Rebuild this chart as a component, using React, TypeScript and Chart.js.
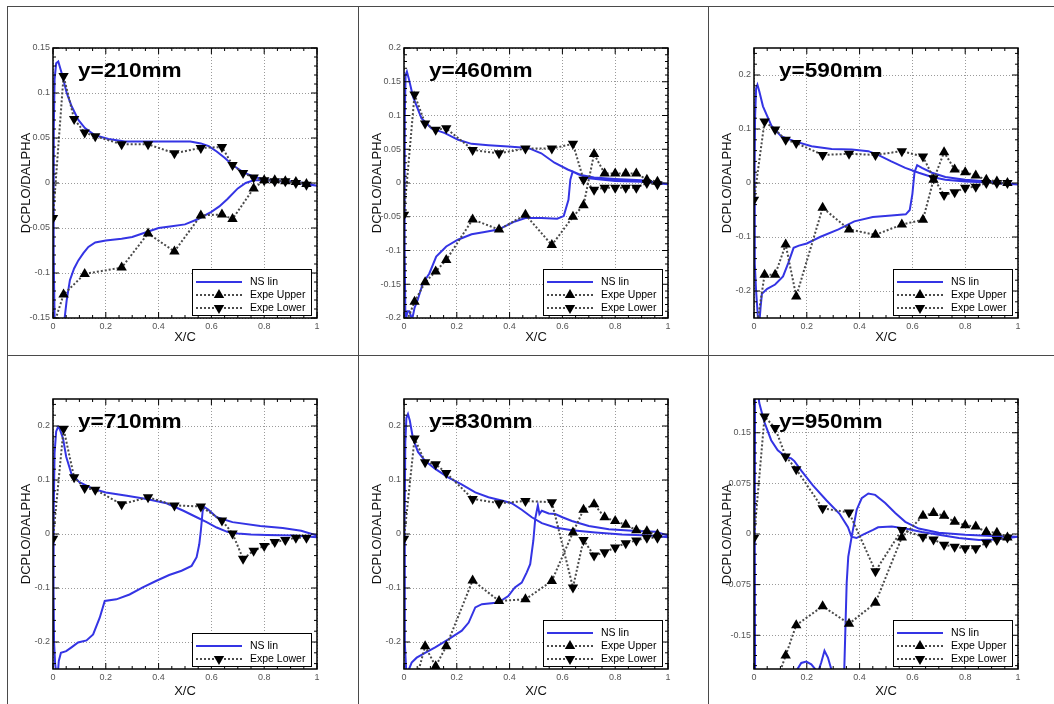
import React, { useEffect, useRef } from 'react';
import { Chart, registerables } from 'chart.js';
Chart.register(...registerables);

const FONT = '"Liberation Sans", Arial, Helvetica, sans-serif';

// pressure tap chord positions shared by experimental series
const TAP_X = [0, 0.04, 0.08, 0.12, 0.16, 0.26, 0.36, 0.46, 0.56, 0.64, 0.68, 0.72, 0.76, 0.80, 0.84, 0.88, 0.92, 0.96];
const X_TICKS = [0, 0.2, 0.4, 0.6, 0.8, 1];
const X_TICK_LABELS = ['0', '0.2', '0.4', '0.6', '0.8', '1'];

// ---------- y = 210 mm ----------
const P1_Y_TICKS = [-0.15, -0.1, -0.05, 0, 0.05, 0.1, 0.15];
const P1_Y_LABELS = ['-0.15', '-0.1', '-0.05', '0', '0.05', '0.1', '0.15'];
const P1_NS_X = [1.0, 0.95, 0.9, 0.85, 0.8, 0.76, 0.72, 0.68, 0.65, 0.62, 0.59, 0.56, 0.52, 0.46, 0.4, 0.34, 0.273, 0.21, 0.159, 0.121, 0.096, 0.071, 0.052, 0.033, 0.02, 0.012, 0.006, 0.003, 0.002, 0.003, 0.006, 0.015, 0.03, 0.04, 0.045, 0.052, 0.064, 0.08, 0.096, 0.115, 0.134, 0.16, 0.2, 0.26, 0.3, 0.35, 0.4, 0.45, 0.5, 0.55, 0.6, 0.63, 0.66, 0.7, 0.73, 0.76, 0.8, 0.9, 1.0];
const P1_NS_Y = [-0.003, 0.0, 0.002, 0.003, 0.004, 0.007, 0.012, 0.02, 0.028, 0.035, 0.041, 0.044, 0.046, 0.046, 0.046, 0.046, 0.046, 0.049, 0.053, 0.061, 0.07, 0.085, 0.1, 0.122, 0.135, 0.133, 0.115, 0.06, 0.0, -0.08, -0.15, -0.2, -0.19, -0.16, -0.148, -0.13, -0.108, -0.095, -0.086, -0.078, -0.071, -0.066, -0.064, -0.062, -0.06, -0.055, -0.05, -0.048, -0.046, -0.04, -0.032, -0.026, -0.018, -0.006, 0.0, 0.003, 0.003, 0.001, -0.003];
const P1_UPPER = [-0.16, -0.124, null, -0.101, null, -0.094, -0.056, -0.076, -0.036, -0.035, -0.04, null, -0.006, 0.003, 0.003, 0.002, 0.001, -0.001];
const P1_LOWER = [-0.039, 0.119, 0.071, 0.056, 0.052, 0.043, 0.043, 0.033, 0.039, 0.040, 0.020, 0.011, 0.006, 0.003, 0.002, 0.002, 0.0, -0.002];

// ---------- y = 460 mm ----------
const P2_Y_TICKS = [-0.2, -0.15, -0.1, -0.05, 0, 0.05, 0.1, 0.15, 0.2];
const P2_Y_LABELS = ['-0.2', '-0.15', '-0.1', '-0.05', '0', '0.05', '0.1', '0.15', '0.2'];
const P2_NS_X = [1.0, 0.9, 0.8, 0.72, 0.67, 0.62, 0.57, 0.52, 0.47, 0.395, 0.32, 0.256, 0.205, 0.155, 0.104, 0.066, 0.034, 0.018, 0.011, 0.006, 0.003, 0.002, 0.003, 0.005, 0.008, 0.014, 0.02, 0.027, 0.033, 0.04, 0.052, 0.071, 0.096, 0.122, 0.16, 0.204, 0.256, 0.3, 0.357, 0.42, 0.46, 0.52, 0.58, 0.605, 0.623, 0.63, 0.639, 0.66, 0.7, 0.8, 0.9, 1.0];
const P2_NS_Y = [-0.002, 0.004, 0.006, 0.008, 0.012, 0.02, 0.03, 0.044, 0.052, 0.054, 0.056, 0.058, 0.064, 0.074, 0.081, 0.096, 0.128, 0.155, 0.165, 0.16, 0.1, 0.0, -0.1, -0.19, -0.2, -0.19, -0.19, -0.198, -0.198, -0.185, -0.173, -0.149, -0.134, -0.109, -0.094, -0.084, -0.076, -0.073, -0.069, -0.057, -0.052, -0.052, -0.053, -0.049, -0.025, 0.005, 0.017, 0.013, 0.007, 0.003, 0.002, -0.002];
const P2_UPPER = [-0.215, -0.176, -0.147, -0.131, -0.114, -0.054, -0.069, -0.047, -0.092, -0.05, -0.033, 0.043, 0.014, 0.014, 0.014, 0.014, 0.005, 0.002];
const P2_LOWER = [-0.047, 0.131, 0.088, 0.079, 0.081, 0.049, 0.044, 0.051, 0.051, 0.058, 0.005, -0.010, -0.007, -0.007, -0.007, -0.007, 0.0, -0.002];

// ---------- y = 590 mm ----------
const P3_Y_TICKS = [-0.2, -0.1, 0, 0.1, 0.2];
const P3_Y_LABELS = ['-0.2', '-0.1', '0', '0.1', '0.2'];
const P3_NS_X = [1.0, 0.89, 0.8, 0.725, 0.674, 0.624, 0.573, 0.52, 0.47, 0.433, 0.37, 0.294, 0.218, 0.155, 0.104, 0.066, 0.034, 0.02, 0.013, 0.008, 0.004, 0.002, 0.003, 0.008, 0.015, 0.02, 0.025, 0.03, 0.05, 0.08, 0.11, 0.13, 0.15, 0.17, 0.2, 0.25, 0.32, 0.38, 0.45, 0.52, 0.575, 0.59, 0.6, 0.608, 0.618, 0.636, 0.674, 0.725, 0.8, 0.89, 1.0];
const P3_NS_Y = [-0.003, 0.001, 0.003, 0.006, 0.011, 0.019, 0.028, 0.04, 0.052, 0.059, 0.062, 0.063, 0.068, 0.077, 0.086, 0.106, 0.142, 0.17, 0.182, 0.175, 0.12, 0.0, -0.15, -0.2, -0.25, -0.26, -0.23, -0.205, -0.196, -0.188, -0.173, -0.148, -0.12, -0.116, -0.112, -0.1, -0.086, -0.071, -0.063, -0.06, -0.058, -0.05, -0.02, 0.02, 0.033, 0.028, 0.019, 0.011, 0.006, 0.003, -0.003];
const P3_UPPER = [-0.3, -0.17, -0.17, -0.114, -0.21, -0.046, -0.086, -0.096, -0.077, -0.068, 0.006, 0.057, 0.025, 0.02, 0.014, 0.006, 0.003, 0.0];
const P3_LOWER = [-0.031, 0.114, 0.099, 0.080, 0.074, 0.052, 0.054, 0.052, 0.059, 0.049, 0.009, -0.022, -0.017, -0.009, -0.007, 0.0, 0.0, 0.0];

// ---------- y = 710 mm ----------
const P4_Y_TICKS = [-0.2, -0.1, 0, 0.1, 0.2];
const P4_Y_LABELS = ['-0.2', '-0.1', '0', '0.1', '0.2'];
const P4_NS_X = [1.0, 0.91, 0.81, 0.75, 0.7, 0.66, 0.62, 0.582, 0.544, 0.494, 0.43, 0.354, 0.28, 0.2, 0.15, 0.1, 0.07, 0.05, 0.038, 0.025, 0.019, 0.012, 0.006, 0.003, 0.002, 0.004, 0.008, 0.013, 0.018, 0.022, 0.03, 0.05, 0.07, 0.095, 0.127, 0.152, 0.177, 0.196, 0.24, 0.29, 0.34, 0.39, 0.44, 0.487, 0.525, 0.544, 0.554, 0.56, 0.567, 0.573, 0.589, 0.62, 0.68, 0.785, 0.87, 0.94, 1.0];
const P4_NS_Y = [-0.006, -0.003, -0.002, -0.001, 0.001, 0.004, 0.012, 0.022, 0.031, 0.043, 0.057, 0.065, 0.071, 0.077, 0.084, 0.096, 0.111, 0.143, 0.177, 0.195, 0.198, 0.19, 0.15, 0.05, -0.1, -0.2, -0.24, -0.26, -0.26, -0.235, -0.22, -0.217, -0.21, -0.201, -0.197, -0.186, -0.155, -0.124, -0.121, -0.112, -0.099, -0.087, -0.076, -0.068, -0.059, -0.043, -0.019, 0.006, 0.043, 0.05, 0.045, 0.031, 0.022, 0.015, 0.011, 0.006, -0.003];
const P4_LOWER = [-0.009, 0.195, 0.105, 0.085, 0.082, 0.055, 0.068, 0.053, 0.051, 0.025, 0.001, -0.046, -0.031, -0.022, -0.015, -0.011, -0.007, -0.007];

// ---------- y = 830 mm ----------
const P5_Y_TICKS = [-0.2, -0.1, 0, 0.1, 0.2];
const P5_Y_LABELS = ['-0.2', '-0.1', '0', '0.1', '0.2'];
const P5_NS_X = [1.0, 0.928, 0.826, 0.725, 0.636, 0.573, 0.522, 0.484, 0.446, 0.408, 0.37, 0.32, 0.27, 0.218, 0.167, 0.117, 0.079, 0.053, 0.034, 0.022, 0.015, 0.009, 0.005, 0.002, 0.003, 0.008, 0.012, 0.016, 0.029, 0.048, 0.08, 0.118, 0.168, 0.219, 0.245, 0.27, 0.295, 0.357, 0.395, 0.42, 0.446, 0.465, 0.478, 0.49, 0.497, 0.507, 0.513, 0.522, 0.548, 0.573, 0.6, 0.636, 0.7, 0.776, 0.865, 0.953, 1.0];
const P5_NS_Y = [-0.006, -0.003, -0.001, 0.003, 0.007, 0.012, 0.02, 0.031, 0.045, 0.057, 0.062, 0.068, 0.077, 0.092, 0.105, 0.121, 0.136, 0.152, 0.177, 0.21, 0.222, 0.215, 0.17, 0.0, -0.2, -0.25, -0.27, -0.254, -0.238, -0.229, -0.22, -0.21, -0.195, -0.179, -0.164, -0.136, -0.13, -0.127, -0.115, -0.099, -0.09, -0.071, -0.056, -0.012, 0.028, 0.053, 0.037, 0.043, 0.038, 0.037, 0.031, 0.024, 0.015, 0.009, 0.006, 0.004, -0.003];
const P5_UPPER = [-0.32, -0.28, -0.208, -0.245, -0.208, -0.086, -0.124, -0.121, -0.087, 0.003, 0.045, 0.055, 0.031, 0.024, 0.017, 0.007, 0.005, -0.001];
const P5_LOWER = [-0.009, 0.177, 0.133, 0.129, 0.113, 0.065, 0.057, 0.061, 0.059, -0.099, -0.011, -0.04, -0.034, -0.025, -0.017, -0.012, -0.007, -0.007];

// ---------- y = 950 mm ----------
const P6_Y_TICKS = [-0.15, -0.075, 0, 0.075, 0.15];
const P6_Y_LABELS = ['-0.15', '-0.075', '0', '0.075', '0.15'];
const P6_NS_X = [1.0, 0.915, 0.852, 0.776, 0.7, 0.636, 0.573, 0.522, 0.47, 0.451, 0.413, 0.388, 0.369, 0.356, 0.324, 0.274, 0.223, 0.179, 0.153, 0.141, 0.122, 0.09, 0.065, 0.039, 0.02, 0.012, 0.007, 0.004, 0.003, 0.004, 0.01, 0.1, 0.15, 0.16, 0.179, 0.198, 0.217, 0.242, 0.255, 0.267, 0.28, 0.3, 0.32, 0.338, 0.342, 0.351, 0.357, 0.37, 0.389, 0.408, 0.433, 0.459, 0.497, 0.535, 0.573, 0.624, 0.7, 0.8, 0.9, 1.0];
const P6_NS_Y = [-0.004, -0.008, -0.009, -0.006, -0.001, 0.003, 0.008, 0.011, 0.01, 0.006, -0.001, -0.006, -0.004, 0.01, 0.03, 0.05, 0.072, 0.094, 0.108, 0.112, 0.114, 0.124, 0.139, 0.166, 0.194, 0.22, 0.24, 0.2, 0.0, -0.2, -0.3, -0.32, -0.22, -0.203, -0.191, -0.189, -0.193, -0.205, -0.19, -0.173, -0.183, -0.21, -0.3, -0.3, -0.2, -0.073, -0.034, -0.004, 0.036, 0.053, 0.06, 0.058, 0.046, 0.031, 0.018, 0.008, 0.002, -0.001, -0.003, -0.004];
const P6_UPPER = [null, null, -0.225, -0.18, -0.135, -0.107, -0.133, -0.102, -0.005, 0.027, 0.031, 0.027, 0.018, 0.013, 0.011, 0.003, 0.002, -0.005];
const P6_LOWER = [-0.006, 0.174, 0.157, 0.115, 0.096, 0.038, 0.032, -0.055, 0.006, -0.004, -0.008, -0.016, -0.019, -0.021, -0.021, -0.013, -0.009, -0.005];

type Panel = {
  title: string;
  yMin: number; yMax: number; yMinor: number;
  yTicks: number[]; yLabels: string[];
  nsX: number[]; nsY: number[];
  upper: (number | null)[] | null; lower: (number | null)[];
  left: number; top: number; xTitlePad: number;
};

const PANELS: Panel[] = [
  { title: 'y=210mm', yMin: -0.15, yMax: 0.15, yMinor: 0.01, yTicks: P1_Y_TICKS, yLabels: P1_Y_LABELS, nsX: P1_NS_X, nsY: P1_NS_Y, upper: P1_UPPER, lower: P1_LOWER, left: 7, top: 6, xTitlePad: 10 },
  { title: 'y=460mm', yMin: -0.2, yMax: 0.2, yMinor: 0.01, yTicks: P2_Y_TICKS, yLabels: P2_Y_LABELS, nsX: P2_NS_X, nsY: P2_NS_Y, upper: P2_UPPER, lower: P2_LOWER, left: 358, top: 6, xTitlePad: 10 },
  { title: 'y=590mm', yMin: -0.25, yMax: 0.25, yMinor: 0.02, yTicks: P3_Y_TICKS, yLabels: P3_Y_LABELS, nsX: P3_NS_X, nsY: P3_NS_Y, upper: P3_UPPER, lower: P3_LOWER, left: 708, top: 6, xTitlePad: 10 },
  { title: 'y=710mm', yMin: -0.25, yMax: 0.25, yMinor: 0.02, yTicks: P4_Y_TICKS, yLabels: P4_Y_LABELS, nsX: P4_NS_X, nsY: P4_NS_Y, upper: null, lower: P4_LOWER, left: 7, top: 357, xTitlePad: 7 },
  { title: 'y=830mm', yMin: -0.25, yMax: 0.25, yMinor: 0.02, yTicks: P5_Y_TICKS, yLabels: P5_Y_LABELS, nsX: P5_NS_X, nsY: P5_NS_Y, upper: P5_UPPER, lower: P5_LOWER, left: 358, top: 357, xTitlePad: 7 },
  { title: 'y=950mm', yMin: -0.2, yMax: 0.2, yMinor: 0.015, yTicks: P6_Y_TICKS, yLabels: P6_Y_LABELS, nsX: P6_NS_X, nsY: P6_NS_Y, upper: P6_UPPER, lower: P6_LOWER, left: 708, top: 357, xTitlePad: 7 },
];

const BLUE = '#3434e4';
const DOT = '#4a4a4a';
const CW = 352;
const CH = 349;

function toPoints(xs: number[], ys: (number | null)[]) {
  const out: { x: number; y: number }[] = [];
  const n = Math.min(xs.length, ys.length);
  for (let i = 0; i < n; i++) {
    const y = ys[i];
    if (y !== null && y !== undefined) out.push({ x: xs[i], y });
  }
  return out;
}

function triangle(ctx: CanvasRenderingContext2D, x: number, y: number, r: number, down: boolean) {
  const s = down ? -1 : 1;
  ctx.beginPath();
  ctx.moveTo(x, y - s * r);
  ctx.lineTo(x + r * 0.866, y + s * r * 0.5);
  ctx.lineTo(x - r * 0.866, y + s * r * 0.5);
  ctx.closePath();
  ctx.fill();
}

function PanelChart({ p }: { p: Panel }) {
  const ref = useRef<HTMLCanvasElement | null>(null);
  useEffect(() => {
    if (!ref.current) return;
    const datasets: any[] = [];
    if (p.upper) {
      datasets.push({
        label: 'Expe Upper', data: toPoints(TAP_X, p.upper), showLine: true,
        borderColor: DOT, borderWidth: 2, borderDash: [2, 2],
        pointStyle: 'triangle', pointRadius: 6, pointRotation: 0,
        pointBackgroundColor: '#000', pointBorderColor: '#000', pointBorderWidth: 0,
      });
    }
    datasets.push({
      label: 'Expe Lower', data: toPoints(TAP_X, p.lower), showLine: true,
      borderColor: DOT, borderWidth: 2, borderDash: [2, 2],
      pointStyle: 'triangle', pointRadius: 6, pointRotation: 180,
      pointBackgroundColor: '#000', pointBorderColor: '#000', pointBorderWidth: 0,
    });
    datasets.push({
      label: 'NS lin', data: toPoints(p.nsX, p.nsY), showLine: true,
      borderColor: BLUE, borderWidth: 2, pointRadius: 0, tension: 0,
    });

    const decor = {
      id: 'decor',
      afterDraw(chart: any) {
        const { ctx, chartArea: a, scales } = chart;
        const xs = scales.x;
        const ys = scales.y;
        ctx.save();
        ctx.setLineDash([]);
        ctx.strokeStyle = '#000';
        ctx.lineWidth = 1;
        const seg = (x1: number, y1: number, x2: number, y2: number) => {
          ctx.beginPath(); ctx.moveTo(x1, y1); ctx.lineTo(x2, y2); ctx.stroke();
        };
        const isMajor = (v: number, majors: number[]) => majors.some((m) => Math.abs(m - v) < 1e-9);
        for (let k = 0; k <= 20; k++) {
          const v = k * 0.05;
          const len = isMajor(v, X_TICKS) ? 6 : 3;
          const px = xs.getPixelForValue(v);
          seg(px, a.top, px, a.top + len);
          seg(px, a.bottom, px, a.bottom - len);
        }
        const k0 = Math.ceil(p.yMin / p.yMinor - 1e-6);
        const k1 = Math.floor(p.yMax / p.yMinor + 1e-6);
        for (let k = k0; k <= k1; k++) {
          const v = k * p.yMinor;
          if (isMajor(v, p.yTicks)) continue;
          const py = ys.getPixelForValue(v);
          seg(a.left, py, a.left + 3, py);
          seg(a.right, py, a.right - 3, py);
        }
        for (const v of p.yTicks) {
          const py = ys.getPixelForValue(v);
          seg(a.left, py, a.left + 6, py);
          seg(a.right, py, a.right - 6, py);
        }
        ctx.lineWidth = 1.5;
        ctx.strokeRect(a.left, a.top, a.right - a.left, a.bottom - a.top);

        ctx.fillStyle = '#000';
        ctx.font = `bold 20px ${FONT}`;
        ctx.textBaseline = 'alphabetic';
        ctx.textAlign = 'left';
        ctx.save();
        ctx.translate(a.left + 25, a.top + 29);
        ctx.scale(1.13, 1);
        ctx.fillText(p.title, 0, 0);
        ctx.restore();

        const entries: { label: string; kind: string }[] = [{ label: 'NS lin', kind: 'ns' }];
        if (p.upper) entries.push({ label: 'Expe Upper', kind: 'up' });
        entries.push({ label: 'Expe Lower', kind: 'down' });
        const bw = 119;
        const bh = entries.length * 13 + 7;
        const bx = a.right - 6 - bw;
        const by = a.bottom - 3 - bh;
        ctx.fillStyle = '#fff';
        ctx.fillRect(bx, by, bw, bh);
        ctx.strokeStyle = '#000';
        ctx.lineWidth = 1;
        ctx.strokeRect(bx + 0.5, by + 0.5, bw, bh);
        ctx.font = `10.5px ${FONT}`;
        ctx.textBaseline = 'middle';
        entries.forEach((e, i) => {
          const cy = by + 13 + i * 13;
          ctx.lineWidth = 2;
          if (e.kind === 'ns') {
            ctx.setLineDash([]);
            ctx.strokeStyle = BLUE;
            seg(bx + 4, cy, bx + 50, cy);
          } else {
            ctx.setLineDash([2, 2]);
            ctx.strokeStyle = DOT;
            seg(bx + 4, cy, bx + 50, cy);
            ctx.setLineDash([]);
            ctx.fillStyle = '#000';
            triangle(ctx, bx + 27, cy, 6, e.kind === 'down');
          }
          ctx.fillStyle = '#000';
          ctx.fillText(e.label, bx + 58, cy + 0.5);
        });
        ctx.restore();
      },
    };

    const chart = new Chart(ref.current, {
      type: 'scatter',
      data: { datasets },
      options: {
        animation: false,
        responsive: false,
        devicePixelRatio: 1,
        layout: { padding: { top: 42, right: 42, left: 0, bottom: 0 } },
        plugins: { legend: { display: false }, tooltip: { enabled: false } },
        scales: {
          x: {
            type: 'linear', min: 0, max: 1,
            afterBuildTicks: (s: any) => { s.ticks = X_TICKS.map((v) => ({ value: v })); },
            afterFit: (s: any) => { s.height = 37; },
            ticks: {
              autoSkip: false, maxRotation: 0, padding: 3, color: '#555',
              font: { family: FONT, size: 9 },
              callback: (v: any) => { const i = X_TICKS.indexOf(v); return i >= 0 ? X_TICK_LABELS[i] : ''; },
            },
            grid: { color: '#9a9a9a', lineWidth: 1, drawTicks: false },
            border: { display: false, dash: [1, 2] },
            title: { display: true, text: 'X/C', color: '#111', font: { family: FONT, size: 13 }, padding: { top: 0, bottom: p.xTitlePad } },
          },
          y: {
            type: 'linear', min: p.yMin, max: p.yMax,
            afterBuildTicks: (s: any) => { s.ticks = p.yTicks.map((v) => ({ value: v })); },
            afterFit: (s: any) => { s.width = 46; },
            ticks: {
              autoSkip: false, padding: 3, color: '#555',
              font: { family: FONT, size: 9 },
              callback: (v: any) => { const i = p.yTicks.indexOf(v); return i >= 0 ? p.yLabels[i] : ''; },
            },
            grid: { color: '#9a9a9a', lineWidth: 1, drawTicks: false },
            border: { display: false, dash: [1, 2] },
            title: { display: true, text: 'DCPLO/DALPHA', color: '#111', font: { family: FONT, size: 13 }, padding: { top: 12, bottom: 0 } },
          },
        },
      } as any,
      plugins: [decor],
    });
    return () => chart.destroy();
  }, [p]);

  return (
    <canvas
      ref={ref}
      width={CW}
      height={CH}
      style={{ position: 'absolute', left: p.left, top: p.top, width: CW, height: CH }}
    />
  );
}

const LINE = '#4a4a4a';

export default function App() {
  const hLines = [6, 355];
  const vLines = [7, 358, 708];
  return (
    <div style={{ position: 'fixed', left: 0, top: 0, width: 1054, height: 704, overflow: 'hidden', background: '#fff' }}>
      {PANELS.map((p, i) => <PanelChart key={i} p={p} />)}
      {hLines.map((y) => (
        <div key={'h' + y} style={{ position: 'absolute', left: 7, top: y, width: 1047, height: 1, background: LINE }} />
      ))}
      {vLines.map((x) => (
        <div key={'v' + x} style={{ position: 'absolute', left: x, top: 6, width: 1, height: 698, background: LINE }} />
      ))}
    </div>
  );
}
